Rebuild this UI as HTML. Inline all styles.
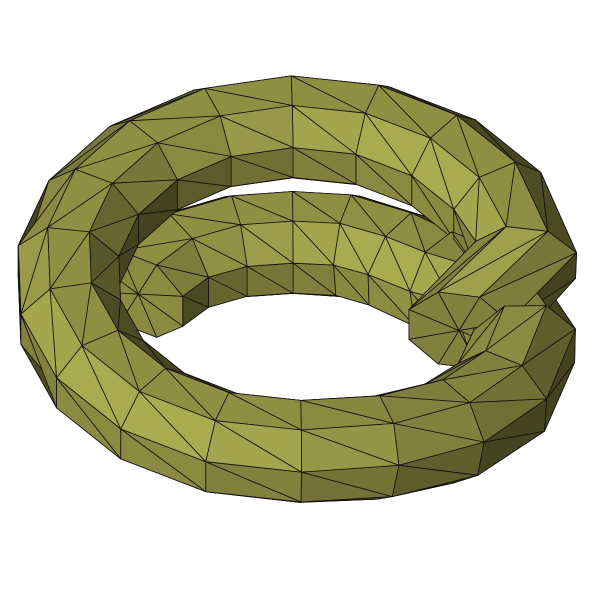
<!DOCTYPE html>
<html><head><meta charset="utf-8"><style>
html,body{margin:0;padding:0;background:#fff;}
svg{display:block;}
</style></head><body>
<svg id="scene" width="592" height="592" viewBox="0 0 592 592" xmlns="http://www.w3.org/2000/svg"></svg>
<script>
// path control data: angle (in units of pi), centerline radius, height
const ctrlTheta = [1.16, 1.5, 1.75, 2.1, 2.5, 3.93, 4.05];
const ctrlRadius = [180, 160, 165, 235, 228, 235, 165];
const ctrlHeight = [-90, -90, -85, -40, 0, 0, -30];
const tubeRadius = [55];

const svg = document.getElementById('scene');
const NS = 'http://www.w3.org/2000/svg';
const cx = 296, cy = 291;
const e = 0.78; const se = Math.sin(e), ce = Math.cos(e);
function interp(arr, t){
  for(let i=0;i<ctrlTheta.length-1;i++){
    if(t<=ctrlTheta[i+1]||i==ctrlTheta.length-2){
      let f=(t-ctrlTheta[i])/(ctrlTheta[i+1]-ctrlTheta[i]);
      f=Math.max(0,Math.min(1,f)); f=f*f*(3-2*f);
      return arr[i]+(arr[i+1]-arr[i])*f;
    }
  }
}
function center(tp){const th=tp*Math.PI;const R=interp(ctrlRadius,tp),h=interp(ctrlHeight,tp);
  return [R*Math.cos(th),R*Math.sin(th),h];}
const sub=(a,b)=>[a[0]-b[0],a[1]-b[1],a[2]-b[2]];
const cross=(a,b)=>[a[1]*b[2]-a[2]*b[1],a[2]*b[0]-a[0]*b[2],a[0]*b[1]-a[1]*b[0]];
const dot=(a,b)=>a[0]*b[0]+a[1]*b[1]+a[2]*b[2];
const norm=a=>{const l=Math.hypot(...a)||1;return [a[0]/l,a[1]/l,a[2]/l];};
const view=[0,ce,se];
function proj(p){return [cx+p[0], cy+p[1]*se-p[2]*ce];}
const t0=ctrlTheta[0], t1=ctrlTheta[ctrlTheta.length-1];
const NS_SEG=Math.round((t1-t0)*9), NR=8, r=tubeRadius[0];
const rings=[];
for(let i=0;i<=NS_SEG;i++){
  const tp=t0+(t1-t0)*i/NS_SEG;
  const c=center(tp), c2=center(tp+0.001), c0=center(tp-0.001);
  const T=norm(sub(c2,c0));
  let N=norm([Math.cos(tp*Math.PI),Math.sin(tp*Math.PI),0]);
  const B=norm(cross(T,N)); N=norm(cross(B,T));
  const ring=[];
  for(let j=0;j<NR;j++){const a=2*Math.PI*(j+0.5)/NR;
    ring.push([c[0]+r*(Math.cos(a)*N[0]+Math.sin(a)*B[0]),c[1]+r*(Math.cos(a)*N[1]+Math.sin(a)*B[1]),c[2]+r*(Math.cos(a)*N[2]+Math.sin(a)*B[2])]);}
  rings.push({c,ring});
}
const tris=[];
for(let i=0;i<NS_SEG;i++){const A=rings[i].ring,Bq=rings[i+1].ring;
  for(let j=0;j<NR;j++){const k=(j+1)%NR;
    tris.push([A[j],A[k],Bq[j]]);tris.push([A[k],Bq[k],Bq[j]]);}}
[0,NS_SEG].forEach(i=>{const {c,ring}=rings[i];
  for(let j=0;j<NR;j++)tris.push([c,ring[j],ring[(j+1)%NR]]);});
const L=norm([-0.45,0.55,0.75]);
const items=[];
tris.forEach(t=>{
  let n=norm(cross(sub(t[1],t[0]),sub(t[2],t[0])));
  if(dot(n,view)<0)n=[-n[0],-n[1],-n[2]];
  const d=Math.max(dot(t[0],view),dot(t[1],view),dot(t[2],view))*0.3+(dot(t[0],view)+dot(t[1],view)+dot(t[2],view))/3*0.7;
  const I=0.42+0.65*Math.max(0,dot(n,L));
  items.push({t,d,I});
});
items.sort((a,b)=>a.d-b.d);
items.forEach(it=>{
  const p=it.t.map(proj);
  const poly=document.createElementNS(NS,'polygon');
  poly.setAttribute('points',p.map(q=>q[0].toFixed(1)+','+q[1].toFixed(1)).join(' '));
  const R=Math.min(255,Math.round(160*it.I)),G=Math.min(255,Math.round(160*it.I)),Bc=Math.round(76*it.I);
  poly.setAttribute('fill',`rgb(${R},${G},${Bc})`);
  poly.setAttribute('stroke','#111');
  poly.setAttribute('stroke-width','0.8');
  poly.setAttribute('stroke-linejoin','round');
  
  
  svg.appendChild(poly);
});
</script>
</body></html>
